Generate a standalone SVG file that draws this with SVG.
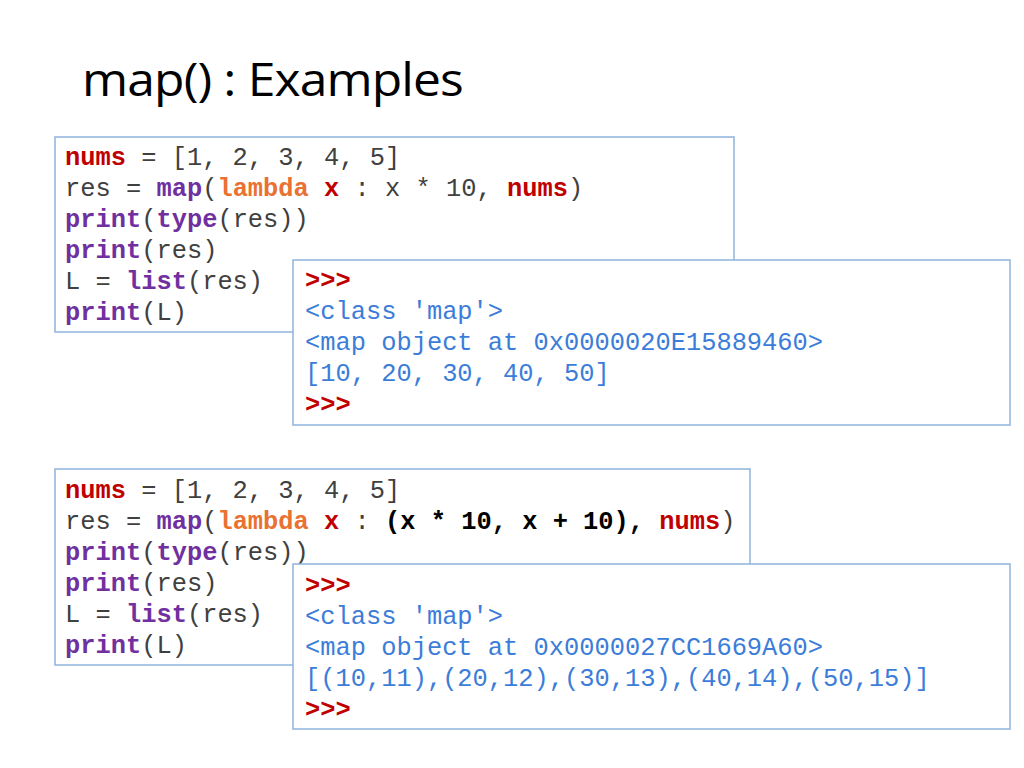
<svg xmlns="http://www.w3.org/2000/svg" width="1024" height="768" viewBox="0 0 1024 768">
<style>
.c{font-family:"Liberation Mono","Courier New",monospace;font-size:25.4px;fill:#404040;white-space:pre}
.o{font-family:"Liberation Mono","Courier New",monospace;font-size:25.4px;fill:#3b7dd8;white-space:pre}
.r{fill:#c00000;font-weight:bold}
.p{fill:#7030a0;font-weight:bold}
.g{fill:#e97132;font-weight:bold}
.k{fill:#000;font-weight:bold}
.b{fill:#fff;stroke:#8eb4dc;stroke-width:1.5}
</style>
<rect width="1024" height="768" fill="#fff"/>
<text x="82" y="96" font-family="'Open Sans','Noto Sans',sans-serif" font-size="46" fill="#000" letter-spacing="-0.8" textLength="381" lengthAdjust="spacingAndGlyphs">map() : Examples</text>
<g id="code1">
<rect class="b" x="55" y="137" width="679" height="195"/>
<text class="c" xml:space="preserve"><tspan x="65" y="165"><tspan class="r">nums</tspan> = [1, 2, 3, 4, 5]</tspan><tspan x="65" y="196">res = <tspan class="p">map</tspan>(<tspan class="g">lambda</tspan> <tspan class="r">x</tspan> : x * 10, <tspan class="r">nums</tspan>)</tspan><tspan x="65" y="227"><tspan class="p">print</tspan>(<tspan class="p">type</tspan>(res))</tspan><tspan x="65" y="258"><tspan class="p">print</tspan>(res)</tspan><tspan x="65" y="289">L = <tspan class="p">list</tspan>(res)</tspan><tspan x="65" y="320"><tspan class="p">print</tspan>(L)</tspan></text>
</g>
<g id="out1">
<rect class="b" x="293" y="260" width="717" height="165"/>
<text class="o" xml:space="preserve"><tspan x="305" y="288" class="r">&gt;&gt;&gt;</tspan><tspan x="305" y="319">&lt;class 'map'&gt;</tspan><tspan x="305" y="350">&lt;map object at 0x0000020E15889460&gt;</tspan><tspan x="305" y="381">[10, 20, 30, 40, 50]</tspan><tspan x="305" y="412" class="r">&gt;&gt;&gt;</tspan></text>
</g>
<g id="code2">
<rect class="b" x="55" y="469" width="695" height="196"/>
<text class="c" xml:space="preserve"><tspan x="65" y="498"><tspan class="r">nums</tspan> = [1, 2, 3, 4, 5]</tspan><tspan x="65" y="529">res = <tspan class="p">map</tspan>(<tspan class="g">lambda</tspan> <tspan class="r">x</tspan> : <tspan class="k">(x * 10, x + 10),</tspan> <tspan class="r">nums</tspan>)</tspan><tspan x="65" y="560"><tspan class="p">print</tspan>(<tspan class="p">type</tspan>(res))</tspan><tspan x="65" y="591"><tspan class="p">print</tspan>(res)</tspan><tspan x="65" y="622">L = <tspan class="p">list</tspan>(res)</tspan><tspan x="65" y="653"><tspan class="p">print</tspan>(L)</tspan></text>
</g>
<g id="out2">
<rect class="b" x="293" y="564" width="717" height="165"/>
<text class="o" xml:space="preserve"><tspan x="305" y="593" class="r">&gt;&gt;&gt;</tspan><tspan x="305" y="624">&lt;class 'map'&gt;</tspan><tspan x="305" y="655">&lt;map object at 0x0000027CC1669A60&gt;</tspan><tspan x="305" y="686">[(10,11),(20,12),(30,13),(40,14),(50,15)]</tspan><tspan x="305" y="717" class="r">&gt;&gt;&gt;</tspan></text>
</g>
</svg>
